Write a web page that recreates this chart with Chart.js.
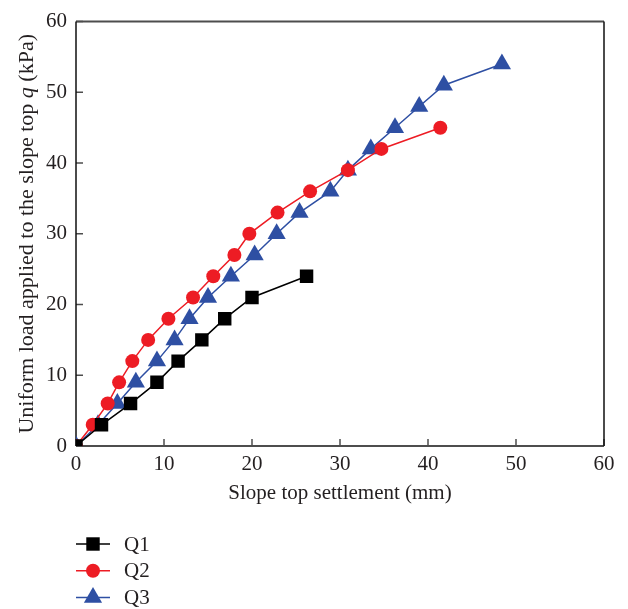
<!DOCTYPE html>
<html>
<head>
<meta charset="utf-8">
<script src="https://cdn.jsdelivr.net/npm/chart.js@4/dist/chart.umd.min.js"></script>
<style>
    html, body { margin: 0; padding: 0; background: #fff; }
    #wrap { width: 628px; height: 609px; position: relative; }
</style>
</head>
<body>
<div id="wrap"><canvas id="grafico"></canvas></div>
<script>
// Datos
const seriesNames = ['Q1', 'Q2', 'Q3'];
const q1Settlement = [0, 2.9, 6.2, 9.2, 11.6, 14.3, 16.9, 20.0, 26.2];
const q1Load = [0, 3, 6, 9, 12, 15, 18, 21, 24];
const q2Settlement = [0, 1.9, 3.6, 4.9, 6.4, 8.2, 10.5, 13.3, 15.6, 18.0, 19.7, 22.9, 26.6, 30.9, 34.7, 41.4];
const q2Load = [0, 3, 6, 9, 12, 15, 18, 21, 24, 27, 30, 33, 36, 39, 42, 45];
const q3Settlement = [0, 2.5, 4.7, 6.8, 9.2, 11.2, 12.9, 15.0, 17.6, 20.3, 22.8, 25.4, 28.9, 30.9, 33.5, 36.25, 39.0, 41.8, 48.4];
const q3Load = [0, 3, 6, 9, 12, 15, 18, 21, 24, 27, 30, 33, 36, 39, 42, 45, 48, 51, 54];
const xTitle = 'Slope top settlement (mm)';
const yTitleParts = ['Uniform load applied to the slope top ', 'q', ' (kPa)'];

const fuente = "'Liberation Serif', 'Times New Roman', serif";
const colorTexto = '#231f20';

function puntos(xs, ys) {
    return xs.map((v, i) => ({ x: v, y: ys[i] }));
}

// Dibuja un marcador igual que los del grafico
function dibujarMarcador(ctx, estilo, radio, x, y, color) {
    ctx.save();
    ctx.fillStyle = color;
    ctx.beginPath();
    if (estilo === 'rect') {
        const s = Math.SQRT1_2 * radio;
        ctx.rect(x - s, y - s, 2 * s, 2 * s);
    } else if (estilo === 'triangle') {
        let rad = 0;
        ctx.moveTo(x + Math.sin(rad) * radio, y - Math.cos(rad) * radio);
        rad += 2 * Math.PI / 3;
        ctx.lineTo(x + Math.sin(rad) * radio, y - Math.cos(rad) * radio);
        rad += 2 * Math.PI / 3;
        ctx.lineTo(x + Math.sin(rad) * radio, y - Math.cos(rad) * radio);
        ctx.closePath();
    } else {
        ctx.arc(x, y, radio, 0, Math.PI * 2);
    }
    ctx.fill();
    ctx.restore();
}

// Marco completo y marcas hacia adentro
const marcoPlugin = {
    id: 'marco',
    beforeDatasetsDraw(chart) {
        const { ctx, chartArea: a, scales } = chart;
        ctx.save();
        ctx.strokeStyle = '#4d4d4d';
        ctx.lineWidth = 1.5;
        ctx.beginPath();
        scales.x.ticks.forEach(t => {
            const px = scales.x.getPixelForValue(t.value);
            ctx.moveTo(px, a.bottom);
            ctx.lineTo(px, a.bottom - 7);
        });
        scales.y.ticks.forEach(t => {
            const py = scales.y.getPixelForValue(t.value);
            ctx.moveTo(a.left, py);
            ctx.lineTo(a.left + 7, py);
        });
        ctx.stroke();
        ctx.lineWidth = 2;
        ctx.beginPath();
        ctx.moveTo(a.left, a.top);
        ctx.lineTo(a.right, a.top);
        ctx.moveTo(a.left, a.bottom);
        ctx.lineTo(a.right, a.bottom);
        ctx.stroke();
        ctx.strokeStyle = '#111111';
        ctx.lineWidth = 1.5;
        ctx.beginPath();
        ctx.moveTo(a.left, a.top);
        ctx.lineTo(a.left, a.bottom);
        ctx.moveTo(a.right, a.top);
        ctx.lineTo(a.right, a.bottom);
        ctx.stroke();
        ctx.restore();
    }
};

// Titulo del eje Y con la q en cursiva
const tituloYPlugin = {
    id: 'tituloY',
    afterDraw(chart) {
        const { ctx, chartArea: a } = chart;
        const normal = '22px ' + fuente;
        const cursiva = 'italic 22px ' + fuente;
        ctx.save();
        const anchos = yTitleParts.map((p, i) => {
            ctx.font = i === 1 ? cursiva : normal;
            return ctx.measureText(p).width;
        });
        const total = anchos.reduce((s, w) => s + w, 0);
        ctx.translate(27, (a.top + a.bottom) / 2);
        ctx.rotate(-Math.PI / 2);
        ctx.fillStyle = colorTexto;
        ctx.textBaseline = 'middle';
        ctx.textAlign = 'left';
        let x = -total / 2;
        yTitleParts.forEach((p, i) => {
            ctx.font = i === 1 ? cursiva : normal;
            ctx.fillText(p, x, 0);
            x += anchos[i];
        });
        ctx.restore();
    }
};

// Leyenda vertical debajo del grafico
const leyendaPlugin = {
    id: 'leyenda',
    afterDraw(chart) {
        const { ctx, chartArea: a } = chart;
        ctx.save();
        ctx.font = '21px ' + fuente;
        ctx.textBaseline = 'middle';
        ctx.fillStyle = colorTexto;
        chart.data.datasets.forEach((ds, i) => {
            const y = a.bottom + 98 + i * 26.7;
            ctx.strokeStyle = ds.borderColor;
            ctx.lineWidth = ds.borderWidth;
            ctx.beginPath();
            ctx.moveTo(a.left, y);
            ctx.lineTo(a.left + 34, y);
            ctx.stroke();
            dibujarMarcador(ctx, ds.pointStyle, ds.pointRadius, a.left + 17, y, ds.backgroundColor);
            ctx.fillStyle = colorTexto;
            ctx.fillText(ds.label, a.left + 48, y + 1);
        });
        ctx.restore();
    }
};

document.addEventListener('DOMContentLoaded', function() {
    const ctx = document.getElementById('grafico').getContext('2d');
    new Chart(ctx, {
        type: 'line',
        data: {
            datasets: [
                {
                    label: seriesNames[0],
                    data: puntos(q1Settlement, q1Load),
                    borderColor: '#000000',
                    backgroundColor: '#000000',
                    borderWidth: 1.5,
                    pointStyle: 'rect',
                    pointRadius: 9.5,
                    pointBorderWidth: 0
                },
                {
                    label: seriesNames[1],
                    data: puntos(q2Settlement, q2Load),
                    borderColor: '#ed1c24',
                    backgroundColor: '#ed1c24',
                    borderWidth: 1.5,
                    pointStyle: 'circle',
                    pointRadius: 7,
                    pointBorderWidth: 0
                },
                {
                    label: seriesNames[2],
                    data: puntos(q3Settlement, q3Load),
                    borderColor: '#2e4fa3',
                    backgroundColor: '#2e4fa3',
                    borderWidth: 1.5,
                    pointStyle: 'triangle',
                    pointRadius: 10.5,
                    pointBorderWidth: 0
                }
            ]
        },
        options: {
            responsive: true,
            maintainAspectRatio: false,
            animation: false,
            layout: {
                padding: { left: 0, right: 24, top: 16, bottom: 103 }
            },
            plugins: {
                legend: { display: false },
                tooltip: { enabled: false }
            },
            scales: {
                x: {
                    type: 'linear',
                    min: 0,
                    max: 60,
                    ticks: {
                        stepSize: 10,
                        padding: 6,
                        color: colorTexto,
                        font: { family: fuente, size: 21 }
                    },
                    grid: { display: false, drawTicks: false },
                    border: { display: false },
                    title: {
                        display: true,
                        text: xTitle,
                        color: colorTexto,
                        font: { family: fuente, size: 21 },
                        padding: { top: 0, bottom: 0 }
                    },
                    afterFit: function(scale) { scale.height = 60; }
                },
                y: {
                    type: 'linear',
                    min: 0,
                    max: 60,
                    ticks: {
                        stepSize: 10,
                        padding: 9,
                        color: colorTexto,
                        font: { family: fuente, size: 21 }
                    },
                    grid: { display: false, drawTicks: false },
                    border: { display: false },
                    afterFit: function(scale) { scale.width = 76; }
                }
            }
        },
        plugins: [marcoPlugin, tituloYPlugin, leyendaPlugin]
    });
});
</script>
</body>
</html>
